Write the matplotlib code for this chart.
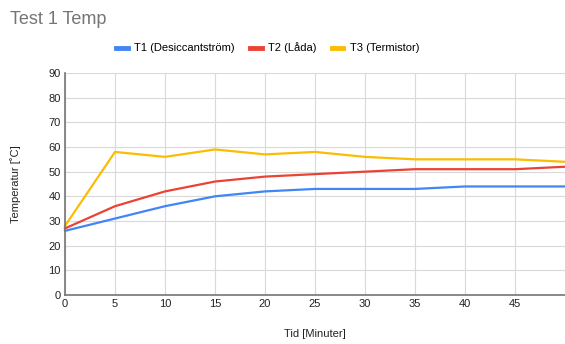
import matplotlib
matplotlib.use("Agg")
import matplotlib.pyplot as plt

plt.rcParams['font.family'] = ['Liberation Sans', 'DejaVu Sans']

# data
minutes = [0, 5, 10, 15, 20, 25, 30, 35, 40, 45, 50]
t1 = [26, 31, 36, 40, 42, 43, 43, 43, 44, 44, 44]
t2 = [27, 36, 42, 46, 48, 49, 50, 51, 51, 51, 52]
t3 = [28, 58, 56, 59, 57, 58, 56, 55, 55, 55, 54]
labels = ['T1 (Desiccantström)', 'T2 (Låda)', 'T3 (Termistor)']
colors = ['#4285F4', '#EA4335', '#FBBC04']
x_ticks = [0, 5, 10, 15, 20, 25, 30, 35, 40, 45]
y_ticks = [0, 10, 20, 30, 40, 50, 60, 70, 80, 90]

fig = plt.figure(figsize=(5.65, 3.44), dpi=100)
ax = fig.add_axes([65 / 565, 1 - 295 / 344, 500 / 565, 222 / 344])

for ys, lab, c in zip([t1, t2, t3], labels, colors):
    ax.plot(minutes, ys, color=c, lw=1.6, label=lab, clip_on=False)

ax.set_xlim(0, 50)
ax.set_ylim(0, 90)
ax.set_xticks(x_ticks)
ax.set_yticks(y_ticks)
ax.grid(True, color='#d9d9d9', lw=0.8)
ax.set_axisbelow(True)
ax.tick_params(length=0, labelsize=8, colors='#222222', pad=3)
for s in ['top', 'right']:
    ax.spines[s].set_visible(False)
for s in ['left', 'bottom']:
    ax.spines[s].set_color('#757575')
    ax.spines[s].set_linewidth(1.2)

ax.set_xlabel('Tid [Minuter]', fontsize=8, color='#222222', labelpad=14)
ax.set_ylabel('Temperatur [˚C]', fontsize=8, color='#222222', labelpad=20)

fig.text(10 / 565, 1 - 20 / 344, 'Test 1 Temp', fontsize=13, color='#757575', va='center')
fig.legend(loc='center', bbox_to_anchor=(268 / 565, 1 - 48 / 344), ncol=3, frameon=False,
           fontsize=8, handlelength=1.0, handleheight=0.4, columnspacing=1.4,
           handletextpad=0.6)
leg = fig.legends[0]
for h in leg.get_lines():
    h.set_linewidth(3.5)

fig.savefig('out.png', dpi=100)
